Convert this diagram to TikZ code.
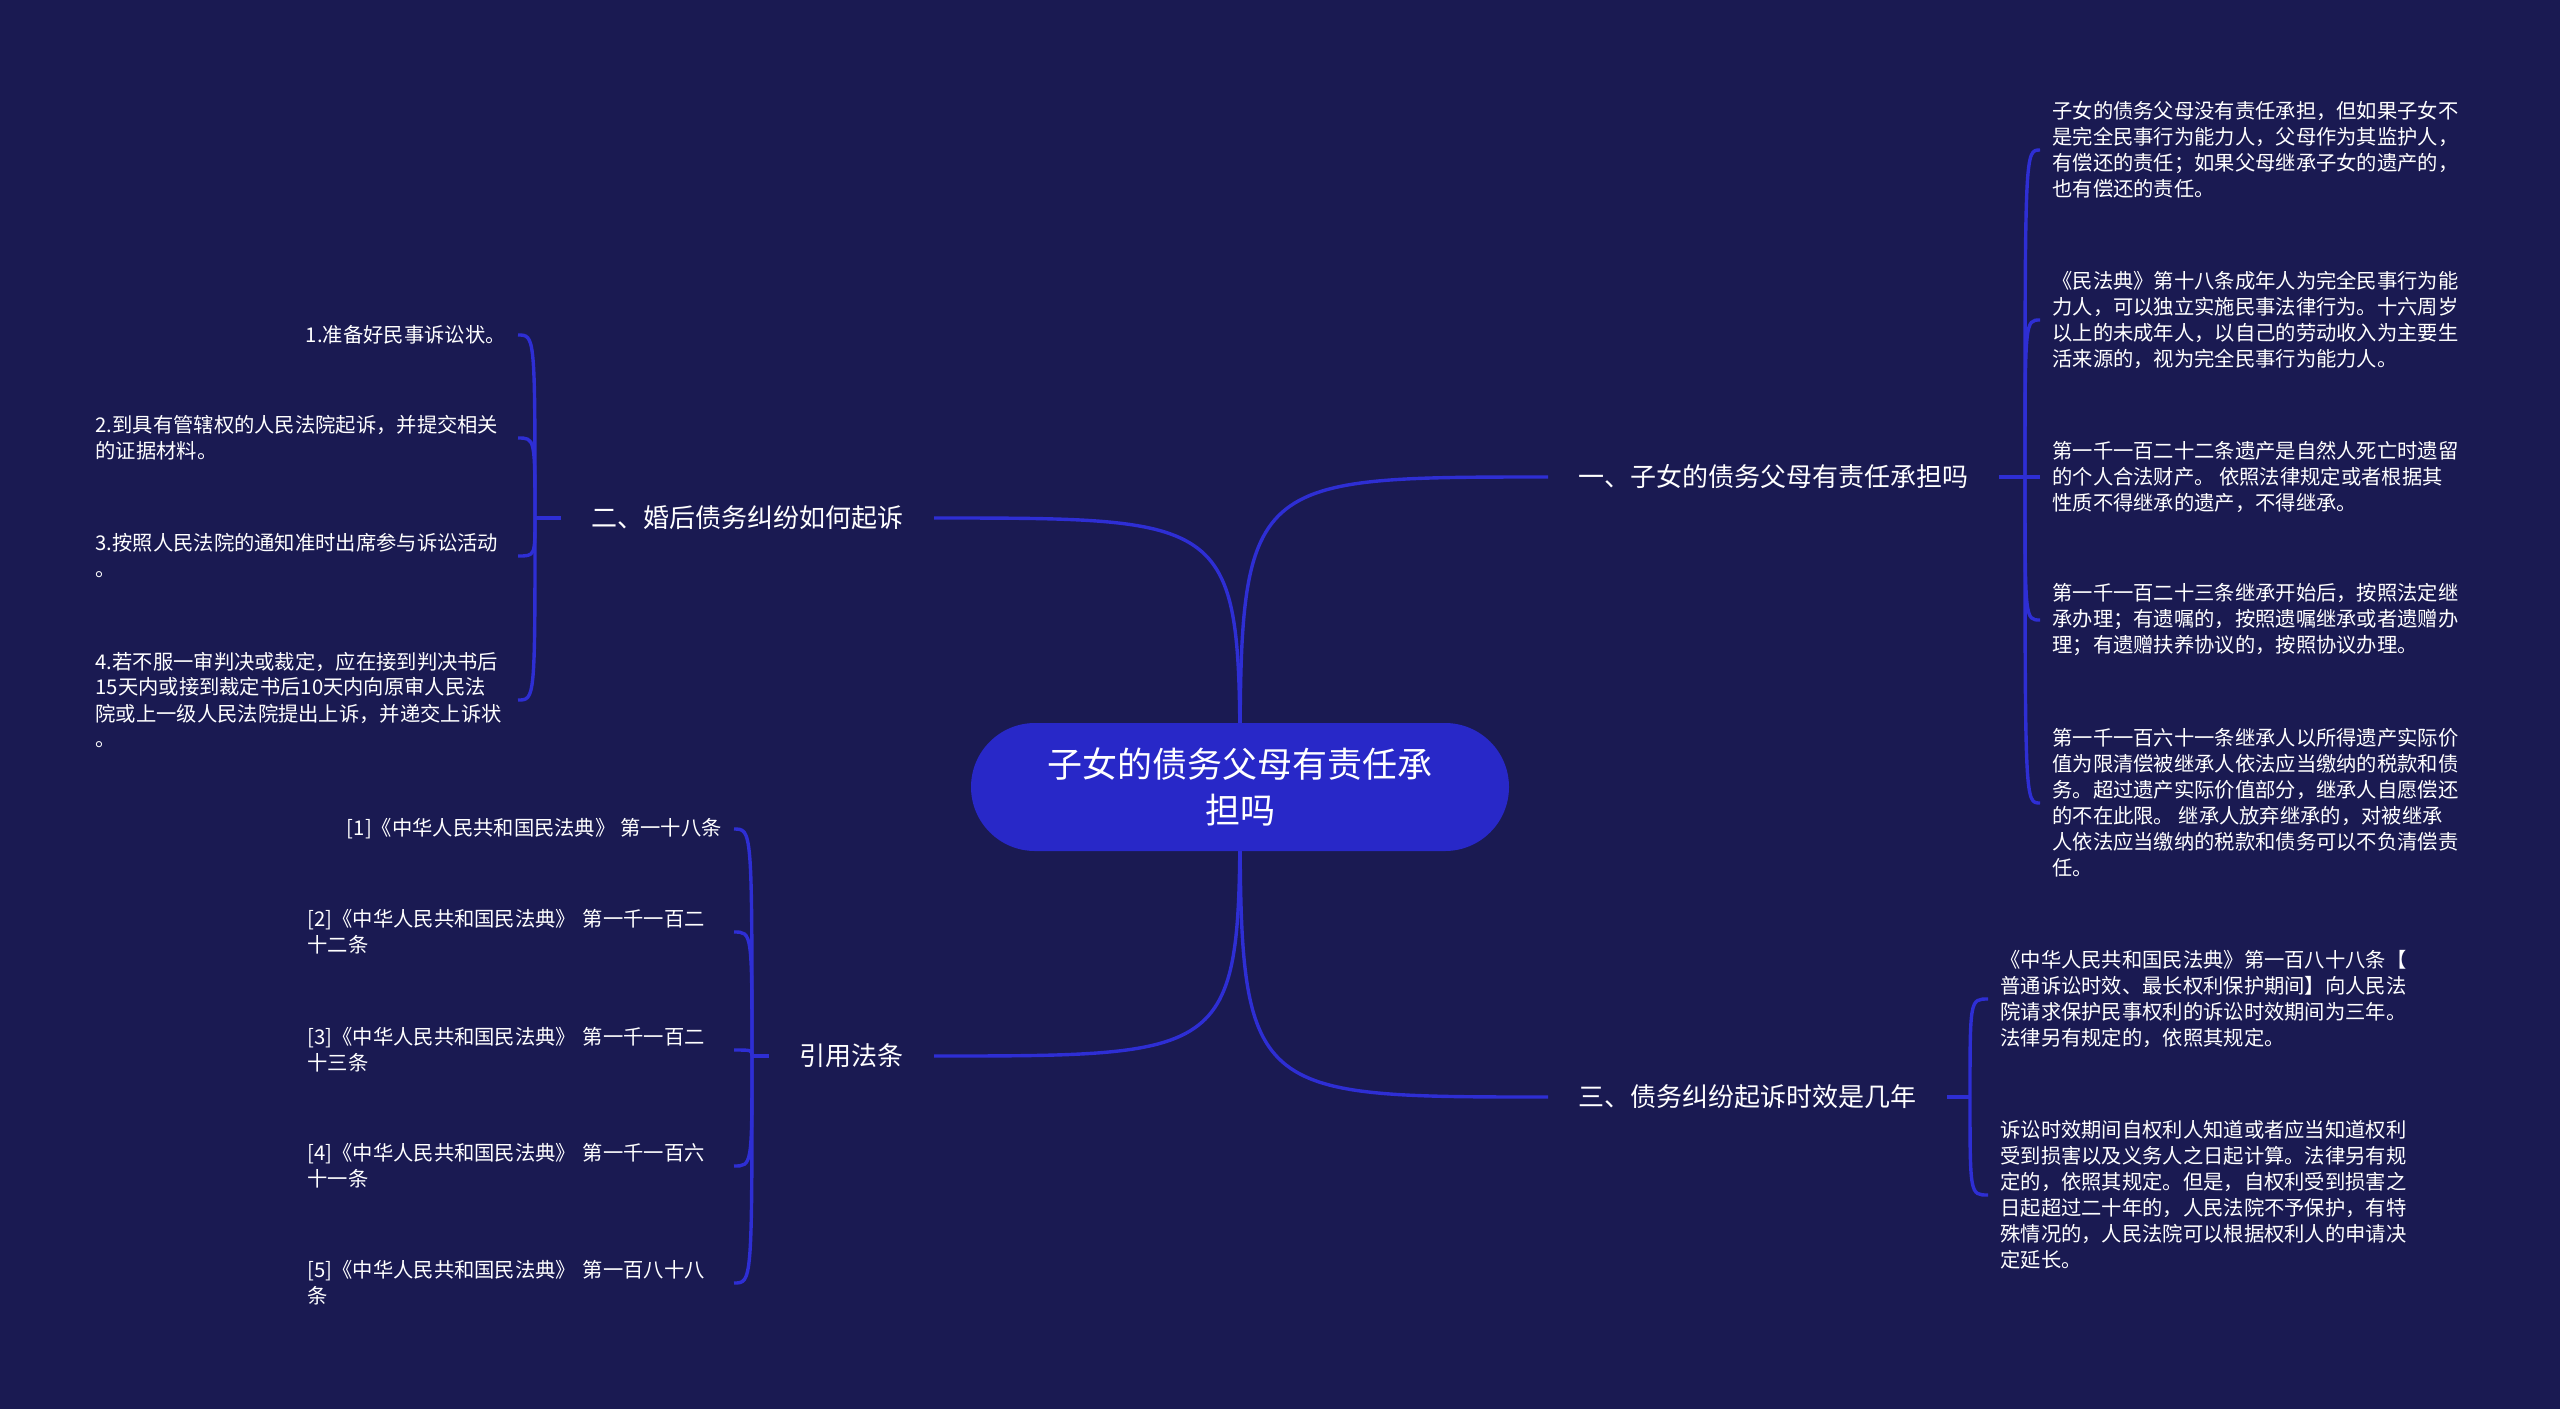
\documentclass[tikz,border=0pt]{standalone}
\usepackage{fontspec}
\setmainfont{Noto Sans CJK SC}
\usetikzlibrary{backgrounds}
\definecolor{bgnavy}{HTML}{1A1A52}
\definecolor{rootblue}{HTML}{2828C8}
\definecolor{linkblue}{HTML}{2E2ED4}

\begin{document}
\begin{tikzpicture}[x=0.5pt,y=-0.5pt,
every node/.style={text=white},
root/.style={fill=rootblue,rounded corners=32pt,minimum width=269pt,minimum height=64pt,align=center,font=\fontsize{17.5}{23}\selectfont},
branch/.style={inner xsep=15pt,font=\fontsize{13}{16}\selectfont},
leaf/.style={inner xsep=6pt,align=left,font=\fontsize{10.15}{13}\selectfont},
link/.style={draw=linkblue,line width=1.7pt}]
\useasboundingbox (0,0) rectangle (2560,1409);

\node[root] (R) at (1240,787) {子女的债务父母有责任承\\担吗};
\node[branch,anchor=west] (B1) at (1548,477) {一、子女的债务父母有责任承担吗};
\node[branch,anchor=east] (B2) at (934,518) {二、婚后债务纠纷如何起诉};
\node[branch,anchor=west] (B3) at (1548,1097) {三、债务纠纷起诉时效是几年};
\node[branch,anchor=east] (B4) at (934,1056) {引用法条};

% right side
\node[leaf,anchor=west] (C11) at (2040,150) {子女的债务父母没有责任承担，但如果子女不\\是完全民事行为能力人，父母作为其监护人，\\有偿还的责任；如果父母继承子女的遗产的，\\也有偿还的责任。};
\node[leaf,anchor=west] (C12) at (2040,320) {《民法典》第十八条成年人为完全民事行为能\\力人，可以独立实施民事法律行为。十六周岁\\以上的未成年人，以自己的劳动收入为主要生\\活来源的，视为完全民事行为能力人。};
\node[leaf,anchor=west] (C13) at (2040,477) {第一千一百二十二条遗产是自然人死亡时遗留\\的个人合法财产。 依照法律规定或者根据其\\性质不得继承的遗产，不得继承。};
\node[leaf,anchor=west] (C14) at (2040,620) {第一千一百二十三条继承开始后，按照法定继\\承办理；有遗嘱的，按照遗嘱继承或者遗赠办\\理；有遗赠扶养协议的，按照协议办理。};
\node[leaf,anchor=west] (C15) at (2040,803) {第一千一百六十一条继承人以所得遗产实际价\\值为限清偿被继承人依法应当缴纳的税款和债\\务。超过遗产实际价值部分，继承人自愿偿还\\的不在此限。 继承人放弃继承的，对被继承\\人依法应当缴纳的税款和债务可以不负清偿责\\任。};
\node[leaf,anchor=west] (C31) at (1988,999) {《中华人民共和国民法典》第一百八十八条【\\普通诉讼时效、最长权利保护期间】向人民法\\院请求保护民事权利的诉讼时效期间为三年。\\法律另有规定的，依照其规定。};
\node[leaf,anchor=west] (C32) at (1988,1195) {诉讼时效期间自权利人知道或者应当知道权利\\受到损害以及义务人之日起计算。法律另有规\\定的，依照其规定。但是，自权利受到损害之\\日起超过二十年的，人民法院不予保护，有特\\殊情况的，人民法院可以根据权利人的申请决\\定延长。};

% left side
\node[leaf,anchor=east] (C21) at (518,335) {1.准备好民事诉讼状。};
\node[leaf,anchor=east,text width=205pt] (C22) at (518,438) {2.到具有管辖权的人民法院起诉，并提交相关\\的证据材料。};
\node[leaf,anchor=east,text width=205pt] (C23) at (518,556) {3.按照人民法院的通知准时出席参与诉讼活动\\。};
\node[leaf,anchor=east,text width=205pt] (C24) at (518,700) {4.若不服一审判决或裁定，应在接到判决书后\\15天内或接到裁定书后10天内向原审人民法\\院或上一级人民法院提出上诉，并递交上诉状\\。};
\node[leaf,anchor=east] (C41) at (734,829) {[1]《中华人民共和国民法典》 第一十八条};
\node[leaf,anchor=east,text width=207pt] (C42) at (734,932) {[2]《中华人民共和国民法典》 第一千一百二\\十二条};
\node[leaf,anchor=east,text width=207pt] (C43) at (734,1050) {[3]《中华人民共和国民法典》 第一千一百二\\十三条};
\node[leaf,anchor=east,text width=207pt] (C44) at (734,1166) {[4]《中华人民共和国民法典》 第一千一百六\\十一条};
\node[leaf,anchor=east,text width=207pt] (C45) at (734,1283) {[5]《中华人民共和国民法典》 第一百八十八\\条};

\coordinate (J1) at (2025,477);
\coordinate (J2) at (535,518);
\coordinate (J3) at (1970,1097);
\coordinate (J4) at (752,1056);

\begin{scope}[on background layer]
\fill[bgnavy] (0,0) rectangle (2560,1409);
% main branches start behind the root
\draw[link] (R.center) .. controls (R.center |- B1.west) .. (B1.west);
\draw[link] (R.center) .. controls (R.center |- B2.east) .. (B2.east);
\draw[link] (R.center) .. controls (R.center |- B3.west) .. (B3.west);
\draw[link] (R.center) .. controls (R.center |- B4.east) .. (B4.east);

\draw[link] (B1.east) -- (J1);
\draw[link] (B3.east) -- (J3);
\draw[link] (B2.west) -- (J2);
\draw[link] (B4.west) -- (J4);
\foreach \n in {C11,C12,C13,C14,C15}
  \draw[link] (J1) .. controls (J1 |- \n.west) .. (\n.west);
\foreach \n in {C31,C32}
  \draw[link] (J3) .. controls (J3 |- \n.west) .. (\n.west);
\foreach \n in {C21,C22,C23,C24}
  \draw[link] (J2) .. controls (J2 |- \n.east) .. (\n.east);
\foreach \n in {C41,C42,C43,C44,C45}
  \draw[link] (J4) .. controls (J4 |- \n.east) .. (\n.east);
\end{scope}
\end{tikzpicture}
\end{document}
